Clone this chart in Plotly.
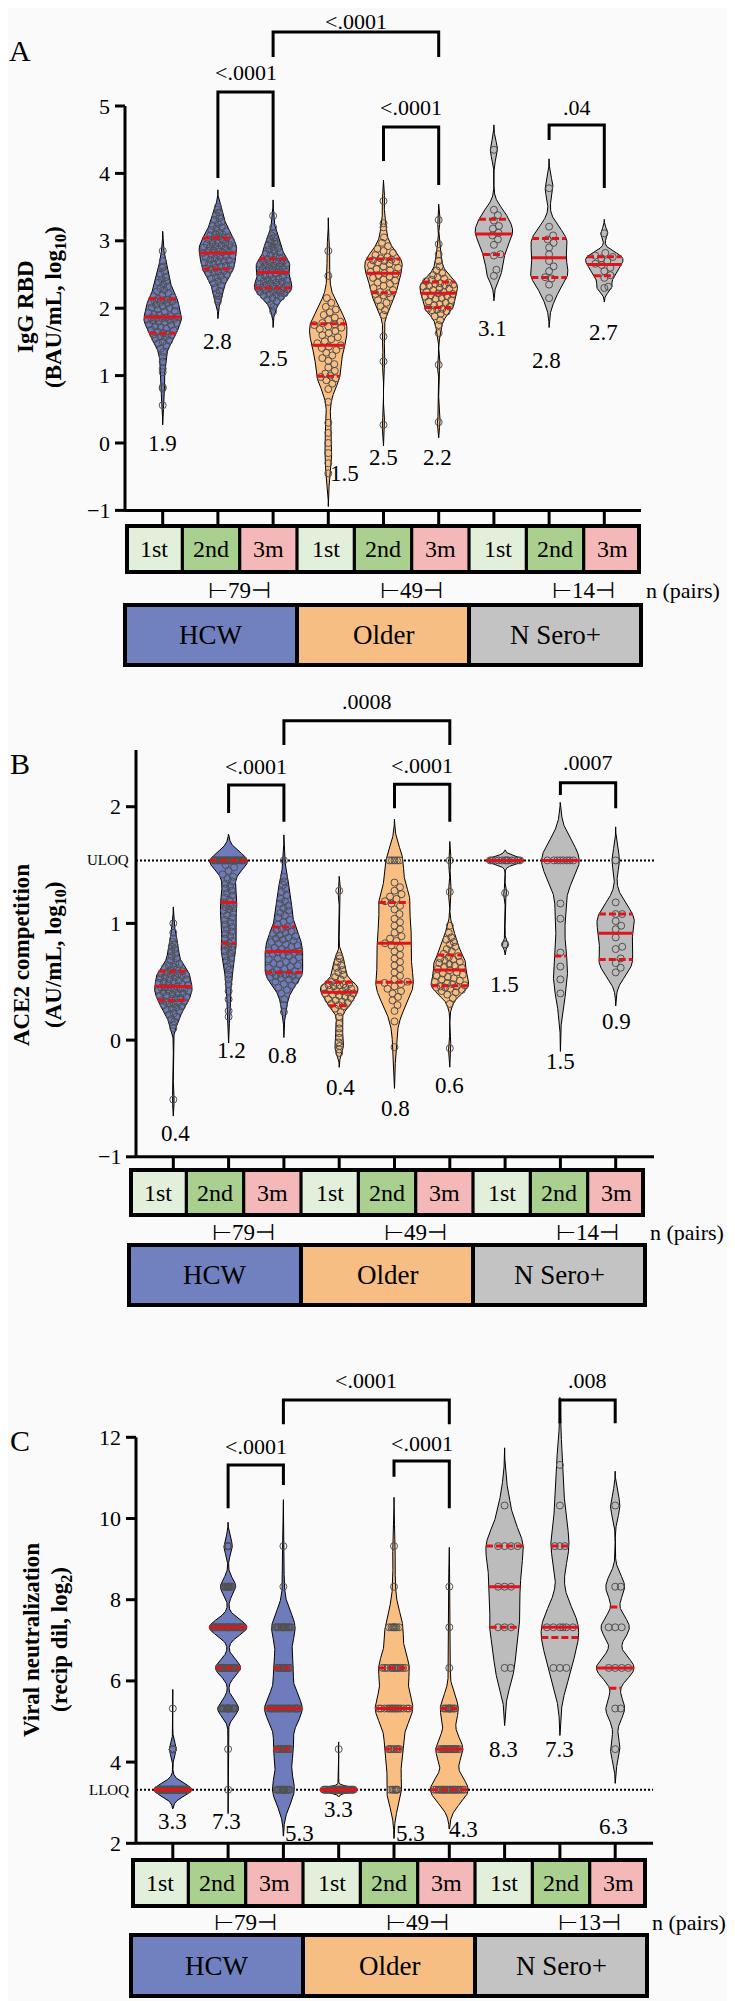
import numpy as np
import plotly.graph_objects as go

W, H = 735, 2001
PAGE_OFF = 8          # default body margin of the written html page
FONT = "Liberation Serif, Times New Roman, serif"

# ============================ DATA ============================
CATEGORY_LABELS = ["1st", "2nd", "3m", "1st", "2nd", "3m", "1st", "2nd", "3m"]
GROUP_LABELS = ["HCW", "Older", "N Sero+"]

A_PAIRS = ["79", "49", "14"]
B_PAIRS = ["79", "49", "14"]
C_PAIRS = ["79", "49", "13"]

A_TICKS = [5, 4, 3, 2, 1, 0, -1]
B_TICKS = [2, 1, 0, -1]
C_TICKS = [12, 10, 8, 6, 4, 2]
B_ULOQ = 1.54
C_LLOQ = 3.32

# Panel A: IgG RBD (BAU/mL, log10)
A_HCW_1ST = [0.56, 0.81, 0.83, 1.05, 1.10, 1.21, 1.28, 1.35, 1.40, 1.45,
             1.48, 1.50, 1.52, 1.55, 1.57, 1.58, 1.60, 1.61, 1.62, 1.63,
             1.65, 1.67, 1.68, 1.70, 1.72, 1.73, 1.75, 1.76, 1.78, 1.79,
             1.80, 1.81, 1.82, 1.83, 1.84, 1.85, 1.85, 1.86, 1.86, 1.87,
             1.88, 1.90, 1.91, 1.93, 1.95, 1.96, 1.98, 2.00, 2.01, 2.03,
             2.04, 2.05, 2.07, 2.08, 2.09, 2.10, 2.11, 2.12, 2.13, 2.14,
             2.16, 2.18, 2.20, 2.22, 2.25, 2.27, 2.30, 2.32, 2.35, 2.38,
             2.40, 2.43, 2.46, 2.50, 2.55, 2.60, 2.62, 2.70, 2.85]
A_HCW_2ND = [2.10, 2.13, 2.18, 2.22, 2.26, 2.30, 2.34, 2.37, 2.40, 2.42,
             2.44, 2.46, 2.48, 2.50, 2.52, 2.53, 2.54, 2.55, 2.57, 2.58,
             2.59, 2.60, 2.62, 2.63, 2.64, 2.65, 2.66, 2.68, 2.69, 2.70,
             2.71, 2.72, 2.74, 2.75, 2.76, 2.77, 2.78, 2.79, 2.80, 2.82,
             2.83, 2.84, 2.85, 2.86, 2.87, 2.88, 2.89, 2.90, 2.91, 2.92,
             2.93, 2.94, 2.95, 2.96, 2.97, 2.98, 3.00, 3.01, 3.02, 3.04,
             3.05, 3.06, 3.08, 3.09, 3.10, 3.12, 3.14, 3.16, 3.18, 3.20,
             3.22, 3.25, 3.28, 3.31, 3.34, 3.38, 3.42, 3.46, 3.50]
A_HCW_3M = [1.95, 2.02, 2.06, 2.10, 2.13, 2.15, 2.17, 2.19, 2.20, 2.21,
            2.22, 2.23, 2.24, 2.25, 2.26, 2.27, 2.28, 2.29, 2.29, 2.30,
            2.31, 2.32, 2.33, 2.34, 2.35, 2.36, 2.37, 2.38, 2.39, 2.40,
            2.41, 2.42, 2.43, 2.44, 2.45, 2.46, 2.48, 2.49, 2.51, 2.53,
            2.54, 2.55, 2.56, 2.57, 2.58, 2.59, 2.60, 2.61, 2.62, 2.63,
            2.64, 2.65, 2.66, 2.67, 2.68, 2.69, 2.70, 2.71, 2.72, 2.73,
            2.75, 2.77, 2.79, 2.81, 2.83, 2.85, 2.87, 2.89, 2.91, 2.93,
            2.95, 2.97, 2.99, 3.02, 3.05, 3.08, 3.12, 3.20, 3.37]
A_OLD_1ST = [-0.45, -0.30, -0.15, 0.00, 0.15, 0.30, 0.61, 0.80, 0.88, 0.93,
             0.96, 0.98, 1.00, 1.03, 1.07, 1.12, 1.17, 1.22, 1.26, 1.30,
             1.34, 1.38, 1.41, 1.43, 1.45, 1.48, 1.51, 1.54, 1.57, 1.60,
             1.63, 1.66, 1.69, 1.71, 1.73, 1.75, 1.76, 1.78, 1.80, 1.83,
             1.86, 1.90, 1.94, 1.98, 2.02, 2.08, 2.15, 2.48, 2.85]
A_OLD_2ND = [0.27, 1.21, 1.58, 1.90, 1.97, 2.03, 2.08, 2.12, 2.16, 2.19,
             2.21, 2.22, 2.24, 2.27, 2.30, 2.33, 2.36, 2.38, 2.41, 2.43,
             2.45, 2.47, 2.49, 2.51, 2.52, 2.54, 2.56, 2.58, 2.60, 2.62,
             2.64, 2.66, 2.68, 2.69, 2.70, 2.71, 2.72, 2.74, 2.76, 2.79,
             2.82, 2.85, 2.88, 2.92, 2.97, 3.05, 3.20, 3.26, 3.59]
A_OLD_3M = [0.31, 1.16, 1.63, 1.75, 1.82, 1.88, 1.92, 1.95, 1.97, 1.98,
            1.99, 2.00, 2.02, 2.04, 2.06, 2.08, 2.10, 2.12, 2.14, 2.15,
            2.17, 2.18, 2.19, 2.21, 2.22, 2.24, 2.25, 2.27, 2.29, 2.30,
            2.32, 2.33, 2.34, 2.35, 2.36, 2.37, 2.38, 2.40, 2.42, 2.44,
            2.46, 2.49, 2.52, 2.56, 2.62, 2.70, 2.80, 2.95, 3.31]
A_NSP_1ST = [2.48, 2.57, 2.78, 2.80, 2.94, 3.02, 3.08, 3.12, 3.18, 3.22, 3.30, 3.38, 3.46, 4.35]
A_NSP_2ND = [2.15, 2.35, 2.44, 2.46, 2.55, 2.62, 2.70, 2.80, 2.90, 2.97, 3.02, 3.08, 3.21, 3.78]
A_NSP_3M = [2.30, 2.32, 2.45, 2.49, 2.55, 2.60, 2.64, 2.66, 2.70, 2.74, 2.76, 2.78, 2.82, 3.11]

# Panel B: ACE2 competition (AU/mL, log10)
B_HCW_1ST = [-0.51, 0.10, 0.13, 0.16, 0.18, 0.20, 0.22, 0.23, 0.25, 0.26,
             0.27, 0.28, 0.29, 0.30, 0.31, 0.31, 0.32, 0.33, 0.33, 0.34,
             0.35, 0.36, 0.36, 0.37, 0.38, 0.38, 0.39, 0.40, 0.40, 0.41,
             0.42, 0.42, 0.43, 0.43, 0.44, 0.44, 0.45, 0.45, 0.45, 0.46,
             0.47, 0.48, 0.48, 0.49, 0.50, 0.50, 0.51, 0.52, 0.52, 0.53,
             0.54, 0.54, 0.55, 0.56, 0.56, 0.57, 0.57, 0.58, 0.58, 0.59,
             0.60, 0.61, 0.62, 0.63, 0.64, 0.65, 0.66, 0.68, 0.70, 0.72,
             0.74, 0.76, 0.78, 0.80, 0.82, 0.84, 0.87, 0.92, 1.00]
B_HCW_2ND = [0.20, 0.25, 0.35, 0.42, 0.48, 0.52, 0.56, 0.60, 0.63, 0.66,
             0.68, 0.70, 0.72, 0.74, 0.76, 0.77, 0.79, 0.80, 0.82, 0.83,
             0.85, 0.87, 0.89, 0.91, 0.93, 0.95, 0.97, 0.99, 1.01, 1.03,
             1.05, 1.07, 1.09, 1.11, 1.12, 1.13, 1.14, 1.15, 1.16, 1.18,
             1.20, 1.22, 1.24, 1.26, 1.28, 1.30, 1.32, 1.34, 1.36, 1.38,
             1.40, 1.42, 1.45, 1.48, 1.50,
             1.54, 1.54, 1.54, 1.54, 1.54, 1.54, 1.54, 1.54, 1.54, 1.54,
             1.54, 1.54, 1.54, 1.54, 1.54, 1.54, 1.54, 1.54, 1.54, 1.54,
             1.54, 1.54, 1.54, 1.54]
B_HCW_3M = [0.24, 0.30, 0.35, 0.40, 0.43, 0.45, 0.47, 0.48, 0.50, 0.51,
            0.52, 0.53, 0.54, 0.55, 0.55, 0.56, 0.56, 0.57, 0.57, 0.58,
            0.59, 0.60, 0.61, 0.62, 0.63, 0.64, 0.65, 0.66, 0.67, 0.68,
            0.69, 0.70, 0.71, 0.72, 0.73, 0.74, 0.75, 0.75, 0.76, 0.76,
            0.77, 0.78, 0.79, 0.80, 0.81, 0.82, 0.83, 0.84, 0.85, 0.86,
            0.87, 0.88, 0.89, 0.90, 0.91, 0.92, 0.93, 0.94, 0.95, 0.97,
            0.99, 1.01, 1.03, 1.05, 1.07, 1.09, 1.11, 1.13, 1.15, 1.17,
            1.19, 1.21, 1.24, 1.27, 1.30, 1.33, 1.36, 1.40, 1.54]
B_OLD_1ST = [-0.11, -0.08, -0.05, -0.02, 0.02, 0.06, 0.10, 0.14, 0.20, 0.24,
             0.27, 0.29, 0.30, 0.31, 0.32, 0.33, 0.34, 0.35, 0.36, 0.37,
             0.38, 0.39, 0.40, 0.40, 0.41, 0.42, 0.42, 0.43, 0.44, 0.45,
             0.45, 0.46, 0.47, 0.47, 0.48, 0.48, 0.49, 0.50, 0.52, 0.54,
             0.56, 0.58, 0.60, 0.62, 0.64, 0.67, 0.70, 0.72, 1.28]
B_OLD_2ND = [-0.06, 0.16, 0.25, 0.30, 0.34, 0.37, 0.40, 0.42, 0.44, 0.46,
             0.48, 0.49, 0.50, 0.52, 0.55, 0.58, 0.61, 0.64, 0.67, 0.70,
             0.73, 0.76, 0.79, 0.81, 0.83, 0.85, 0.87, 0.89, 0.92, 0.95,
             0.98, 1.01, 1.04, 1.08, 1.12, 1.15, 1.17, 1.19, 1.21, 1.23,
             1.25, 1.28, 1.31, 1.35, 1.54, 1.54, 1.54, 1.54, 1.54]
B_OLD_3M = [-0.07, 0.31, 0.36, 0.39, 0.41, 0.42, 0.43, 0.44, 0.45, 0.45,
            0.46, 0.46, 0.47, 0.48, 0.49, 0.50, 0.51, 0.52, 0.53, 0.54,
            0.55, 0.56, 0.57, 0.58, 0.60, 0.61, 0.62, 0.63, 0.64, 0.65,
            0.66, 0.67, 0.68, 0.69, 0.70, 0.71, 0.72, 0.74, 0.76, 0.78,
            0.80, 0.82, 0.84, 0.86, 0.88, 0.92, 0.98, 1.27, 1.54]
B_NSP_1ST = [0.82, 0.82, 1.26, 1.54, 1.54, 1.54, 1.54, 1.54, 1.54, 1.54,
             1.54, 1.54, 1.54, 1.54, 1.54]
B_NSP_2ND = [0.40, 0.52, 0.63, 0.75, 1.04, 1.17, 1.54, 1.54, 1.54, 1.54,
             1.54, 1.54, 1.54, 1.54]
B_NSP_3M = [0.58, 0.62, 0.66, 0.70, 0.78, 0.80, 0.88, 0.95, 0.98, 1.02,
            1.08, 1.08, 1.18, 1.54]

# Panel C: viral neutralization (recip dil, log2) -- discrete dilution levels with counts
C_LEVELS = [3.32, 4.32, 5.32, 6.32, 7.32, 8.32, 9.32, 10.32, 11.32]
C_HCW_1ST_COUNTS = [66, 12, 1, 0, 0, 0, 0, 0, 0]
C_HCW_2ND_COUNTS = [1, 1, 15, 18, 27, 11, 6, 0, 0]
C_HCW_3M_COUNTS = [14, 12, 24, 12, 15, 1, 1, 0, 0]
C_OLD_1ST_COUNTS = [48, 1, 0, 0, 0, 0, 0, 0, 0]
C_OLD_2ND_COUNTS = [6, 7, 15, 12, 7, 1, 1, 0, 0]
C_OLD_3M_COUNTS = [21, 15, 10, 1, 1, 1, 0, 0, 0]
C_NSP_1ST_COUNTS = [0, 0, 0, 2, 3, 3, 4, 1, 0]
C_NSP_2ND_COUNTS = [0, 0, 0, 3, 6, 0, 3, 1, 1]
C_NSP_3M_COUNTS = [0, 1, 2, 4, 3, 2, 0, 1, 0]

A_MEDIAN_LABELS = ["1.9", "2.8", "2.5", "1.5", "2.5", "2.2", "3.1", "2.8", "2.7"]
B_MEDIAN_LABELS = ["0.4", "1.2", "0.8", "0.4", "0.8", "0.6", "1.5", "1.5", "0.9"]
C_MEDIAN_LABELS = ["3.3", "7.3", "5.3", "3.3", "5.3", "4.3", "8.3", "7.3", "6.3"]

A_COMPARISONS = [(2, 5, "<.0001"), (1, 2, "<.0001"), (4, 5, "<.0001"), (7, 8, ".04")]
B_COMPARISONS = [(2, 5, ".0008"), (1, 2, "<.0001"), (4, 5, "<.0001"), (7, 8, ".0007")]
C_COMPARISONS = [(2, 5, "<.0001"), (7, 8, ".008"), (1, 2, "<.0001"), (4, 5, "<.0001")]

# ============================ STYLE / LAYOUT ============================
GROUP_FILL = ["#6e7cbd", "#f8be82", "#bcbcbc"]
GROUP_BOX = ["#7180bf", "#f6be82", "#c3c3c3"]
CELL_FILL = ["#e2efda", "#a9d08e", "#f4b8b8"]
RED = "#e0151c"
HALF_W = 0.34
BW_SCALE = 0.7
PT_D = 6.5
PT_R = 3.5

# bracket geometry: (top, left leg end, right leg end, text y) in axis units
A_BRACKET_POS = [(6.098, 5.727, 5.727, 6.25), (5.208, 3.932, 3.798, 5.49),
                 (4.688, 4.184, 3.828, 4.985), (4.718, 4.496, 3.783, 4.985)]
B_BRACKET_POS = [(2.737, 2.529, 2.529, 2.90), (2.186, 1.946, 1.871, 2.343),
                 (2.192, 1.986, 1.871, 2.357), (2.206, 2.10, 1.986, 2.377)]
C_BRACKET_POS = [(12.919, 12.32, 12.32, 13.41), (12.919, 12.345, 12.345, 13.41),
                 (11.318, 10.25, 10.825, 11.77), (11.416, 11.03, 10.25, 11.85)]
A_LABEL_POS = [(0, 0.0), (1, 1.50), (2, 1.26), (3.3, -0.45), (4, -0.21), (4.97, -0.21),
               (5.98, 1.70), (6.96, 1.22), (7.98, 1.64)]
B_LABEL_POS = [(0.04, -0.80), (1.05, -0.09), (1.98, -0.136), (3.02, -0.405), (4.01, -0.585),
               (5.0, -0.385), (5.99, 0.48), (7.01, -0.185), (8.02, 0.158)]
C_LABEL_POS = [(0, 2.53), (0.97, 2.53), (2.30, 2.25), (2.99, 2.84), (4.29, 2.25),
               (5.25, 2.345), (5.98, 4.30), (6.99, 4.30), (7.97, 2.41)]

C_SERIES = [np.repeat(C_LEVELS, c) for c in
            [C_HCW_1ST_COUNTS, C_HCW_2ND_COUNTS, C_HCW_3M_COUNTS,
             C_OLD_1ST_COUNTS, C_OLD_2ND_COUNTS, C_OLD_3M_COUNTS,
             C_NSP_1ST_COUNTS, C_NSP_2ND_COUNTS, C_NSP_3M_COUNTS]]

# all pixel positions below are page (screenshot) pixels
PANELS = [
    dict(letter="A", letter_px=(20, 50),
         title=["IgG RBD", "(BAU/mL, log<sub>10</sub>)"], title_px=[(25, 307), (55, 307)],
         series=[A_HCW_1ST, A_HCW_2ND, A_HCW_3M, A_OLD_1ST, A_OLD_2ND, A_OLD_3M,
                 A_NSP_1ST, A_NSP_2ND, A_NSP_3M],
         ticks=A_TICKS, ref=None, ref_label=None, pairs=A_PAIRS,
         comps=A_COMPARISONS, brackets=A_BRACKET_POS,
         med=A_MEDIAN_LABELS, med_pos=A_LABEL_POS, bw_override={},
         band=(0, 680), cat0=162.7, step=55.2, v_ref=5, px_ref=106, ppu=67.4,
         axis_left=125, axis_right=641, y_top=5, y_bot=-1,
         box_left=125, box_right=641, cells=(524, 574), pairs_y=590, groups=(603, 667)),
    dict(letter="B", letter_px=(20, 763),
         title=["ACE2 competition", "(AU/mL, log<sub>10</sub>)"], title_px=[(21, 955), (55, 955)],
         series=[B_HCW_1ST, B_HCW_2ND, B_HCW_3M, B_OLD_1ST, B_OLD_2ND, B_OLD_3M,
                 B_NSP_1ST, B_NSP_2ND, B_NSP_3M],
         ticks=B_TICKS, ref=B_ULOQ, ref_label="ULOQ", pairs=B_PAIRS,
         comps=B_COMPARISONS, brackets=B_BRACKET_POS,
         med=B_MEDIAN_LABELS, med_pos=B_LABEL_POS, bw_override={1: 0.075, 6: 0.03},
         band=(680, 1320), cat0=173.3, step=55.3, v_ref=2, px_ref=806.7, ppu=116.7,
         axis_left=136, axis_right=654, y_top=2.486, y_bot=-1,
         box_left=129, box_right=645, cells=(1168, 1217), pairs_y=1232, groups=(1243, 1307)),
    dict(letter="C", letter_px=(20, 1440),
         title=["Viral neutralization", "(recip dil, log<sub>2</sub>)"], title_px=[(31, 1640), (61, 1640)],
         series=C_SERIES,
         ticks=C_TICKS, ref=C_LLOQ, ref_label="LLOQ", pairs=C_PAIRS,
         comps=C_COMPARISONS, brackets=C_BRACKET_POS,
         med=C_MEDIAN_LABELS, med_pos=C_LABEL_POS, bw_override={},
         band=(1320, 2001), cat0=172.8, step=55.3, v_ref=12, px_ref=1437.3, ppu=40.6,
         axis_left=136, axis_right=653, y_top=12, y_bot=2,
         box_left=131, box_right=647, cells=(1858, 1908), pairs_y=1922, groups=(1933, 1998)),
]

FW, FH = W - PAGE_OFF, H - PAGE_OFF


def bandwidth(v):
    n = len(v)
    sd = v.std(ddof=1)
    q1, q3 = np.percentile(v, [25, 75])
    iqr = (q3 - q1) / 1.34
    if iqr > 0:
        return BW_SCALE * 0.9 * min(sd, iqr) * n ** -0.2
    return 0.9 * sd * n ** -0.2


def kde(v, h):
    ys = np.linspace(v.min() - 3 * h, v.max() + 3 * h, 1500)
    d = np.exp(-0.5 * ((ys[:, None] - v[None, :]) / h) ** 2).sum(axis=1)
    return ys, d / d.max() * HALF_W


def swarm(v, center, ys, ws, ppx, ppy):
    order = np.argsort(v, kind="stable")
    pts = np.empty((0, 2))
    out = np.zeros(len(v))
    for k in order:
        yp = v[k] * ppy
        lim = max(np.interp(v[k], ys, ws) * ppx - PT_R, 0.0)
        steps = np.arange(0.5, lim + 1e-9, 0.5)
        cands = np.concatenate([[0.0], np.column_stack([steps, -steps]).ravel()])
        if len(pts):
            d = np.hypot(cands[:, None] - pts[None, :, 0], yp - pts[None, :, 1]).min(axis=1)
            ok = np.nonzero(d >= PT_D)[0]
            c = cands[ok[0]] if len(ok) else cands[np.argmax(d)]
        else:
            c = 0.0
        pts = np.vstack([pts, [c, yp]])
        out[k] = center + c / ppx
    return out


fig = go.Figure()
shapes, annotations = [], []
layout_axes = {}

for k, P in enumerate(PANELS):
    sfx = "" if k == 0 else str(k + 1)
    xa, ya = "x" + sfx, "y" + sfx

    def dx(px, P=P):
        return (px - P["cat0"]) / P["step"]

    def dy(px, P=P):
        return P["v_ref"] - (px - P["px_ref"]) / P["ppu"]

    top_px = max(P["band"][0], PAGE_OFF)
    bot_px = P["band"][1]
    layout_axes["xaxis" + sfx] = dict(domain=[0, 1], range=[dx(PAGE_OFF), dx(W)], visible=False,
                                      fixedrange=True, anchor=ya)
    layout_axes["yaxis" + sfx] = dict(domain=[1 - (bot_px - PAGE_OFF) / FH, 1 - (top_px - PAGE_OFF) / FH],
                                      range=[dy(bot_px), dy(top_px)], visible=False,
                                      fixedrange=True, anchor=xa)

    def line(x0, y0, x1, y1, width=3, dash=None, color="black"):
        shapes.append(dict(type="line", xref=xa, yref=ya, x0=x0, y0=y0, x1=x1, y1=y1,
                           line=dict(color=color, width=width, dash=dash)))

    def text(x, y, s, size, xanchor="center", yanchor="middle", angle=0, color="black"):
        annotations.append(dict(x=x, y=y, xref=xa, yref=ya, text=s, showarrow=False,
                                xanchor=xanchor, yanchor=yanchor, textangle=angle,
                                font=dict(family=FONT, size=size, color=color)))

    # reference dotted line (drawn under violins)
    if P["ref"] is not None:
        shapes.append(dict(type="line", xref=xa, yref=ya, layer="below",
                           x0=dx(P["axis_left"]), x1=dx(P["axis_right"]), y0=P["ref"], y1=P["ref"],
                           line=dict(color="black", width=2, dash="2px,2px")))
        text(dx(P["axis_left"] - 5), P["ref"], P["ref_label"], 15, xanchor="right")

    # violins
    for i, vals in enumerate(P["series"]):
        v = np.asarray(vals, float)
        h = P["bw_override"].get(i, bandwidth(v))
        ys, ws = kde(v, h)
        fig.add_trace(go.Scatter(
            x=np.r_[i + ws, (i - ws)[::-1]], y=np.r_[ys, ys[::-1]], mode="lines",
            fill="toself", fillcolor=GROUP_FILL[i // 3], line=dict(color="black", width=1),
            xaxis=xa, yaxis=ya, hoverinfo="skip", showlegend=False))
        xs = swarm(v, i, ys, ws, P["step"], P["ppu"])
        fig.add_trace(go.Scatter(
            x=xs, y=v, mode="markers", xaxis=xa, yaxis=ya, hoverinfo="skip", showlegend=False,
            marker=dict(symbol="circle", size=7, color="rgba(0,0,0,0)",
                        line=dict(color="#505050", width=1))))
        q1, q2, q3 = np.percentile(v, [25, 50, 75], method="weibull")
        for q, dash in ((q1, "7px,3px"), (q3, "7px,3px"), (q2, "solid")):
            wq = np.interp(q, ys, ws)
            fig.add_trace(go.Scatter(
                x=[i - wq, i + wq], y=[q, q], mode="lines", xaxis=xa, yaxis=ya,
                line=dict(color=RED, width=3, dash=dash), hoverinfo="skip", showlegend=False))

    # axes
    xl = dx(P["axis_left"])
    line(xl, P["y_bot"], xl, P["y_top"])
    line(xl, P["y_bot"], dx(P["axis_right"]), P["y_bot"])
    for t in P["ticks"]:
        line(dx(P["axis_left"] - 10), t, xl, t)
        lab = ("\u2212" + str(abs(t))) if t < 0 else str(t)
        text(dx(P["axis_left"] - 13), t, lab, 22, xanchor="right")

    # category ticks and label cells
    ct, cb = P["cells"]
    for i in range(9):
        line(i, P["y_bot"], i, dy(ct))
    bl, br = P["box_left"], P["box_right"]
    cw = (br - bl) / 9
    shapes.append(dict(type="rect", xref=xa, yref=ya, x0=dx(bl), x1=dx(br), y0=dy(ct), y1=dy(cb),
                       fillcolor="black", line=dict(width=0)))
    for i in range(9):
        x0 = bl + i * cw + (4 if i == 0 else 1.6)
        x1 = bl + (i + 1) * cw - (4 if i == 8 else 1.6)
        shapes.append(dict(type="rect", xref=xa, yref=ya, x0=dx(x0), x1=dx(x1),
                           y0=dy(ct + 4), y1=dy(cb - 4),
                           fillcolor=CELL_FILL[i % 3], line=dict(width=0)))
        text(dx(bl + (i + 0.5) * cw), dy((ct + cb) / 2), CATEGORY_LABELS[i], 24)

    # n pairs
    for g in range(3):
        text(dx(bl + (3 * g + 2) * cw), dy(P["pairs_y"]), "\u22a2" + P["pairs"][g] + "\u22a3", 23)
    text(dx(br + 3), dy(P["pairs_y"]), "n (pairs)", 22, xanchor="left")

    # group boxes
    gt, gb = P["groups"]
    for g in range(3):
        shapes.append(dict(type="rect", xref=xa, yref=ya,
                           x0=dx(bl + 3 * g * cw), x1=dx(bl + 3 * (g + 1) * cw),
                           y0=dy(gt + 2), y1=dy(gb - 2), fillcolor=GROUP_BOX[g],
                           line=dict(color="black", width=4)))
        text(dx(bl + (3 * g + 1.5) * cw), dy((gt + gb) / 2), GROUP_LABELS[g], 27)

    # significance brackets
    for (c0, c1, lab), (top, l0, l1, ty) in zip(P["comps"], P["brackets"]):
        shapes.append(dict(type="path", xref=xa, yref=ya,
                           path=f"M {c0} {l0} L {c0} {top} L {c1} {top} L {c1} {l1}",
                           line=dict(color="black", width=3)))
        text((c0 + c1) / 2, ty, lab, 22)

    # median labels
    for s, (cx, cy) in zip(P["med"], P["med_pos"]):
        text(cx, cy, s, 23)

    # panel letter and y title
    text(dx(P["letter_px"][0]), dy(P["letter_px"][1]), P["letter"], 30)
    for s, (px, py) in zip(P["title"], P["title_px"]):
        text(dx(px), dy(py), "<b>" + s + "</b>", 23, angle=-90)

fig.update_layout(
    width=FW, height=FH, margin=dict(l=0, r=0, t=0, b=0),
    paper_bgcolor="#fafafa", plot_bgcolor="rgba(0,0,0,0)",
    shapes=shapes, annotations=annotations, showlegend=False,
    **layout_axes,
)
fig.write_html("out.html")
